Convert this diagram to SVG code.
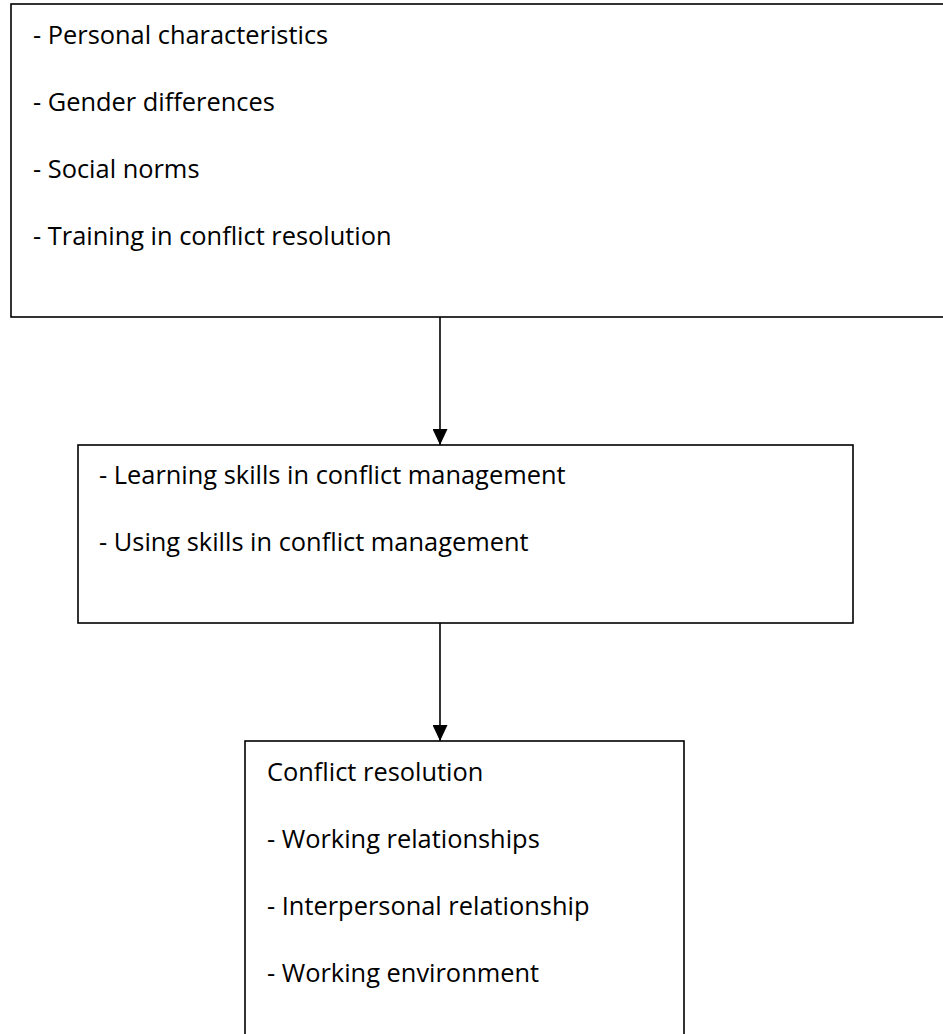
<svg xmlns="http://www.w3.org/2000/svg" width="943" height="1034" viewBox="0 0 943 1034">
  <style>
    .box { fill: #ffffff; stroke: #000000; stroke-width: 1.6; }
    .t { font-family: "Open Sans", "Noto Sans", sans-serif; font-size: 25.4px; fill: #000000; }
    .conn { stroke: #000000; stroke-width: 1.6; fill: none; }
  </style>
  <defs>
    <marker id="arrow" viewBox="0 0 16 15" refX="16" refY="7.5" markerWidth="16" markerHeight="15" markerUnits="userSpaceOnUse" orient="auto">
      <path d="M0,0 L16,7.5 L0,15 Z" fill="#000000"/>
    </marker>
  </defs>
  <rect width="943" height="1034" fill="#ffffff"/>
  <g id="node-factors">
    <rect class="box" x="11" y="4" width="945" height="313"/>
    <text class="t" x="33" y="44">- Personal characteristics</text>
    <text class="t" x="33" y="111">- Gender differences</text>
    <text class="t" x="33" y="178">- Social norms</text>
    <text class="t" x="33" y="245">- Training in conflict resolution</text>
  </g>
  <g id="node-skills">
    <rect class="box" x="78" y="445" width="775" height="178"/>
    <text class="t" x="99" y="484">- Learning skills in conflict management</text>
    <text class="t" x="99" y="551">- Using skills in conflict management</text>
  </g>
  <g id="node-resolution">
    <rect class="box" x="245" y="741" width="439" height="310"/>
    <text class="t" x="267" y="781">Conflict resolution</text>
    <text class="t" x="267" y="848">- Working relationships</text>
    <text class="t" x="267" y="915">- Interpersonal relationship</text>
    <text class="t" x="267" y="982">- Working environment</text>
  </g>
  <g id="connectors">
    <line class="conn" x1="440" y1="317" x2="440" y2="445" marker-end="url(#arrow)"/>
    <line class="conn" x1="440" y1="623" x2="440" y2="741" marker-end="url(#arrow)"/>
  </g>
</svg>
